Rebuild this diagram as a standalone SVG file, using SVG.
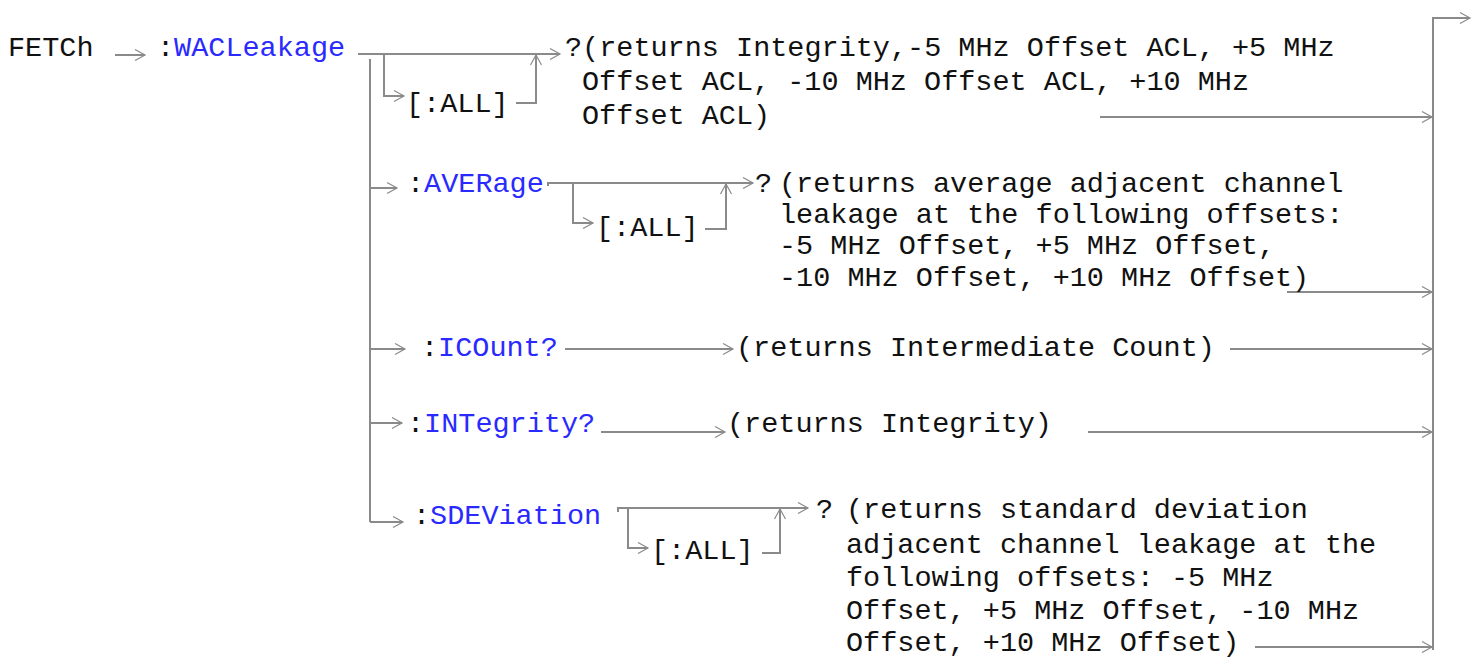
<svg xmlns="http://www.w3.org/2000/svg" width="1478" height="661" viewBox="0 0 1478 661">
<style>
text{font-family:"Liberation Mono","DejaVu Sans Mono",monospace;font-size:28.5px;fill:#111}
.kw{fill:#2a2aff}
.ln{fill:none;stroke:#8a8a8a;stroke-width:2}
.ar{marker-end:url(#ah)}
</style>
<defs>
<marker id="ah" markerUnits="userSpaceOnUse" viewBox="-12 -7 14 14" markerWidth="14" markerHeight="14" refX="0" refY="0" orient="auto" overflow="visible">
<path d="M-10,-5.5 L0,0 L-10,5.5" fill="none" stroke="#8a8a8a" stroke-width="1.2"/>
</marker>
</defs>
<rect width="1478" height="661" fill="#fff"/>
<g id="connectors">
<path class="ln ar" d="M115,55 H145"/>
<path class="ln ar" d="M358,54 H560"/>
<path class="ln ar" d="M384,54 V96 H404"/>
<path class="ln ar" d="M516,103 H536 V55"/>
<path class="ln" d="M370,59 V522"/>
<path class="ln ar" d="M370,522 H403"/>
<path class="ln ar" d="M370,188 H397"/>
<path class="ln ar" d="M548,186 V183 H753"/>
<path class="ln ar" d="M573,183 V223 H593"/>
<path class="ln ar" d="M705,229 H726 V184"/>
<path class="ln ar" d="M370,349 H405"/>
<path class="ln ar" d="M565,349 H733"/>
<path class="ln ar" d="M370,423 H402"/>
<path class="ln ar" d="M601,432 H725"/>
<path class="ln ar" d="M618,512 V508 H808"/>
<path class="ln ar" d="M628,508 V548 H648"/>
<path class="ln ar" d="M762,553 H780 V509"/>
<path class="ln ar" d="M1100,117 H1432"/>
<path class="ln ar" d="M1287,292 H1432"/>
<path class="ln ar" d="M1230,349 H1432"/>
<path class="ln ar" d="M1088,432 H1432"/>
<path class="ln ar" d="M1255,647 H1432"/>
<path class="ln ar" d="M1433,650 V18 H1470"/>
</g>
<g id="fetch"><text x="8" y="56">FETCh</text></g>
<g id="wacleakage"><text x="157" y="56">:<tspan class="kw">WACLeakage</tspan></text></g>
<g id="all1"><text x="406" y="112">[:ALL]</text></g>
<g id="result-wac">
<text x="565" y="56">?(returns Integrity,-5 MHz Offset ACL, +5 MHz</text>
<text x="582" y="90">Offset ACL, -10 MHz Offset ACL, +10 MHz</text>
<text x="582" y="124">Offset ACL)</text>
</g>
<g id="average"><text x="407" y="192">:<tspan class="kw">AVERage</tspan></text></g>
<g id="all2"><text x="596" y="236">[:ALL]</text></g>
<g id="result-avg">
<text x="755" y="192">?</text>
<text x="779" y="192">(returns average adjacent channel</text>
<text x="779" y="223">leakage at the following offsets:</text>
<text x="779" y="254">-5 MHz Offset, +5 MHz Offset,</text>
<text x="779" y="286">-10 MHz Offset, +10 MHz Offset)</text>
</g>
<g id="icount"><text x="421" y="356">:<tspan class="kw">ICOunt?</tspan></text></g>
<g id="result-icount"><text x="736" y="356">(returns Intermediate Count)</text></g>
<g id="integrity"><text x="407" y="432">:<tspan class="kw">INTegrity?</tspan></text></g>
<g id="result-integrity"><text x="727" y="432">(returns Integrity)</text></g>
<g id="sdeviation"><text x="413" y="524">:<tspan class="kw">SDEViation</tspan></text></g>
<g id="all3"><text x="651" y="559">[:ALL]</text></g>
<g id="result-sdev">
<text x="816" y="518">?</text>
<text x="846" y="518">(returns standard deviation</text>
<text x="846" y="553">adjacent channel leakage at the</text>
<text x="846" y="586">following offsets: -5 MHz</text>
<text x="846" y="619">Offset, +5 MHz Offset, -10 MHz</text>
<text x="846" y="651">Offset, +10 MHz Offset)</text>
</g>
</svg>
